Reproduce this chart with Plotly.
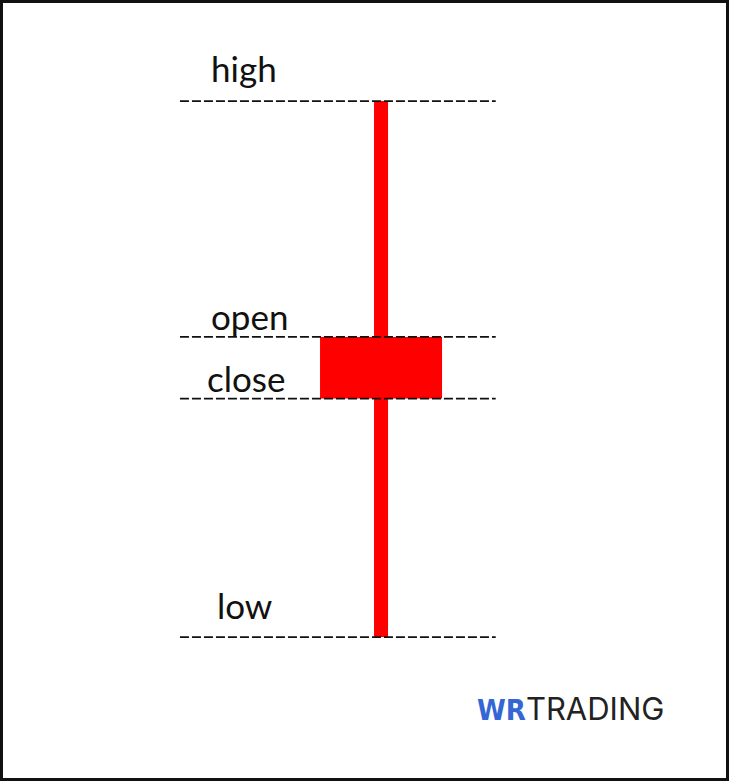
import plotly.graph_objects as go

# Candle data
open_price = [51.2]
high_price = [60.0]
low_price = [40.0]
close_price = [48.9]
candle_x = [0]

level_names = ["high", "open", "close", "low"]
level_values = [high_price[0], open_price[0], close_price[0], low_price[0]]

# style-only offsets for labels (pixels)
label_yshift = [10, -2, -2, 9]
label_xshift = [0, 5, 2, 0]

RED = "#ff0000"

fig = go.Figure()

# wick
fig.add_trace(go.Bar(
    x=candle_x, base=low_price,
    y=[h - l for h, l in zip(high_price, low_price)],
    width=0.115, marker=dict(color=RED, line=dict(width=0)),
    hoverinfo="skip", showlegend=False,
))
# body
fig.add_trace(go.Bar(
    x=candle_x, base=[min(o, c) for o, c in zip(open_price, close_price)],
    y=[abs(o - c) for o, c in zip(open_price, close_price)],
    width=1.0, marker=dict(color=RED, line=dict(width=0)),
    hoverinfo="skip", showlegend=False,
))

# dashed guide lines
for name, val, ys, xs in zip(level_names, level_values, label_yshift, label_xshift):
    fig.add_shape(type="line", xref="x", yref="y",
                  x0=-1.648, x1=0.94, y0=val, y1=val,
                  line=dict(color="#111111", width=1.8, dash="9px,3px"),
                  layer="above")
    fig.add_annotation(x=-1.123, y=val, xref="x", yref="y", text=name,
                       showarrow=False, xanchor="center", yanchor="bottom",
                       yshift=ys, xshift=xs,
                       font=dict(family="Lato", size=35, color="#111111"))

# border
fig.add_shape(type="rect", xref="paper", yref="paper", x0=0, y0=0, x1=1, y1=1,
              line=dict(color="#111111", width=6), fillcolor="rgba(0,0,0,0)", layer="above")

# logo
fig.add_annotation(xref="paper", yref="paper", x=666 / 729, y=1 - 708 / 781,
                   xanchor="right", yanchor="middle", showarrow=False,
                   text="<span style=\"color:#3567d4;font-family:'DejaVu Sans Condensed';font-weight:bold;font-size:29px\">WR</span>"
                        "<span style='color:#222222'>TRADING</span>",
                   font=dict(family="Inter", size=31))

fig.update_layout(
    width=729, height=781,
    margin=dict(l=0, r=0, t=0, b=0),
    paper_bgcolor="white", plot_bgcolor="white",
    barmode="overlay",
    xaxis=dict(range=[-3.123, 2.852], visible=False, fixedrange=True),
    yaxis=dict(range=[34.63, 63.77], visible=False, fixedrange=True),
)

fig.write_html("out.html", config={"displayModeBar": False},
               post_script="document.body.style.margin='0';document.body.style.overflow='hidden';")
